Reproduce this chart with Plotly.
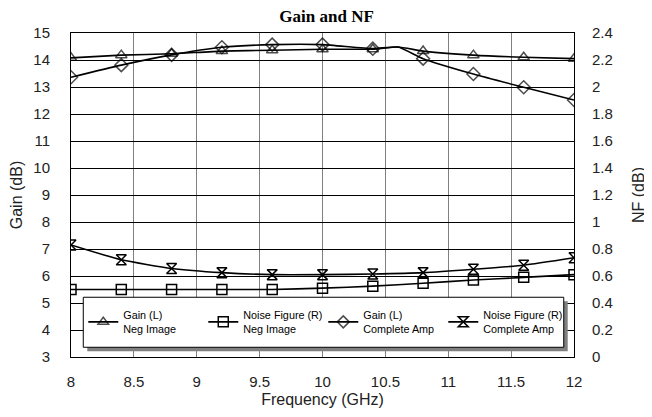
import plotly.graph_objects as go

freq = [8, 8.4, 8.8, 9.2, 9.6, 10, 10.4, 10.8, 11.2, 11.6, 12]
freq_gain = [8, 8.4, 8.8, 9.2, 9.6, 10, 10.4, 10.6, 10.8, 11.2, 11.6, 12]
gain_neg = [14.08, 14.18, 14.23, 14.33, 14.36, 14.4, 14.4, 14.48, 14.33, 14.18, 14.1, 14.05]
gain_amp = [13.36, 13.81, 14.19, 14.47, 14.57, 14.57, 14.42, 14.48, 14.05, 13.48, 12.99, 12.52]
nf_neg = [0.50, 0.50, 0.50, 0.50, 0.50, 0.51, 0.525, 0.546, 0.57, 0.59, 0.61]
nf_amp = [0.83, 0.72, 0.656, 0.625, 0.61, 0.61, 0.615, 0.625, 0.65, 0.68, 0.735]

gain_sizes = [10] * 7 + [0] + [10] * 4

font = "Liberation Sans, Arial, sans-serif"
tcol = "#222"

fig = go.Figure()
fig.add_trace(go.Scatter(x=freq_gain, y=gain_neg, name="Gain (L)<br>Neg Image",
                         mode="lines+markers", line=dict(color="black", width=1.6, shape="spline", smoothing=0.5),
                         marker=dict(symbol="triangle-up-open", size=gain_sizes, color="black", line=dict(width=1.5))))
fig.add_trace(go.Scatter(x=freq, y=nf_neg, name="Noise Figure (R)<br>Neg Image", yaxis="y2",
                         mode="lines+markers", line=dict(color="black", width=1.6, shape="spline", smoothing=0.5),
                         marker=dict(symbol="square-open", size=10, color="black", line=dict(width=1.5))))
fig.add_trace(go.Scatter(x=freq_gain, y=gain_amp, name="Gain (L)<br>Complete Amp",
                         mode="lines+markers", line=dict(color="black", width=1.6, shape="spline", smoothing=0.5),
                         marker=dict(symbol="diamond-open", size=gain_sizes, color="black", line=dict(width=1.5))))
fig.add_trace(go.Scatter(x=freq, y=nf_amp, name="Noise Figure (R)<br>Complete Amp", yaxis="y2",
                         mode="lines+markers", line=dict(color="black", width=1.6, shape="spline", smoothing=0.5),
                         marker=dict(symbol="hourglass-open", size=10, color="black", line=dict(width=1.5))))

axis_common = dict(showline=True, linecolor="black", linewidth=1, mirror=True, automargin=False,
                   ticks="outside", tickcolor="rgba(0,0,0,0)", zeroline=False,
                   tickfont=dict(family=font, size=15, color=tcol))

fig.update_layout(
    width=644, height=409,
    margin=dict(l=62.7, r=77.7, t=25, b=60.3),
    paper_bgcolor="white", plot_bgcolor="white",
    title=dict(text="<b>Gain and NF</b>", x=0.4947, xanchor="center", y=0.995, yanchor="top",
               font=dict(family="Liberation Serif, Times New Roman, serif", size=17, color="black")),
    showlegend=True,
    legend=dict(orientation="h", x=0.0244, y=0.107, xanchor="left", yanchor="middle",
                bgcolor="rgba(0,0,0,0)", borderwidth=0,
                font=dict(family=font, size=10.8, color="black"),
                entrywidth=75, entrywidthmode="pixels", itemwidth=30,
                tracegroupgap=0),
    xaxis=dict(range=[8, 12], dtick=0.5, showgrid=True, gridcolor="#808080", gridwidth=1,
               ticklen=11,
               title=dict(text="Frequency (GHz)", font=dict(family=font, size=16, color=tcol), standoff=4),
               **axis_common),
    yaxis=dict(range=[3, 15], dtick=1, showgrid=True, gridcolor="black", gridwidth=1,
               ticklen=17,
               title=dict(text="Gain (dB)", font=dict(family=font, size=16, color=tcol), standoff=13),
               **axis_common),
    yaxis2=dict(range=[0, 2.4], dtick=0.2, overlaying="y", side="right", showgrid=False,
                ticklen=14,
                title=dict(text="NF (dB)", font=dict(family=font, size=16, color=tcol), standoff=20),
                **axis_common),
    shapes=[
        dict(type="rect", xref="paper", yref="paper", x0=0.0324, x1=0.9875, y0=0.0176, y1=0.172,
             fillcolor="#808080", line=dict(width=0), layer="above"),
        dict(type="rect", xref="paper", yref="paper", x0=0.0244, x1=0.9796, y0=0.030, y1=0.1844,
             fillcolor="white", line=dict(color="black", width=1), layer="above"),
    ],
)

fig.write_html("out.html")
